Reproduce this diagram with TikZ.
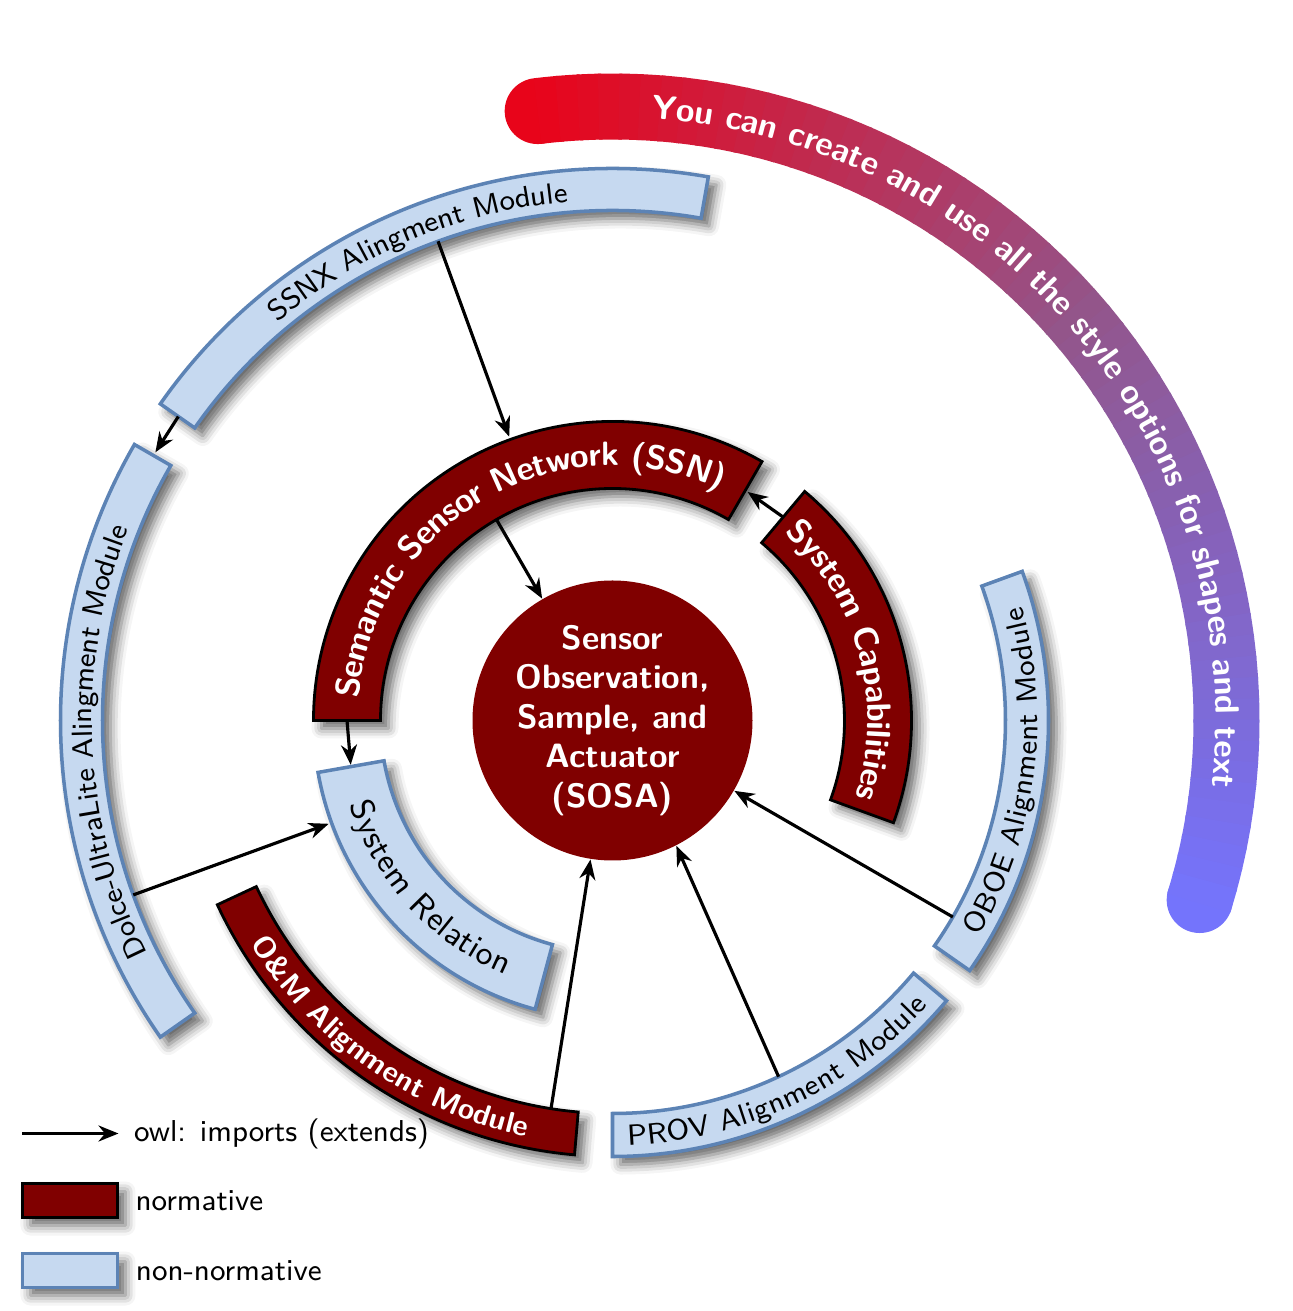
\documentclass[tikz,border=0pt]{standalone}
\usepackage{tikz}
\usetikzlibrary{arrows.meta,calc,decorations.text,shadows,shadows.blur,positioning}
\colorlet{snorm}{red!50!black}
\definecolor{snonfill}{RGB}{198,217,240}
\definecolor{snonedge}{RGB}{92,131,181}
\definecolor{sgradA}{RGB}{232,4,26}
\definecolor{sgradM}{RGB}{146,86,140}
\definecolor{sgradB}{RGB}{116,116,252}
\newcommand{\sbigfont}{\fontsize{9.6}{11.2}\selectfont\sffamily\bfseries}
\newcommand{\sbandfont}{\fontsize{8.4}{10}\selectfont\sffamily\bfseries}
\newcommand{\smidfont}{\fontsize{9.4}{11}\selectfont\sffamily}
\newcommand{\ssmallfont}{\fontsize{8.3}{10}\selectfont\sffamily}
\newcommand{\slegfont}{\fontsize{8.6}{10}\selectfont\sffamily}
\tikzset{
  sshadow/.style={blur shadow={shadow xshift=0.8mm,shadow yshift=-0.8mm,shadow blur radius=1mm,shadow opacity=60}},
  snormseg/.style={draw=black,line width=0.8pt,fill=snorm,sshadow},
  snonseg/.style={draw=snonedge,line width=1pt,fill=snonfill,sshadow},
  simp/.style={-{Stealth[length=2mm,width=1.6mm]},line width=0.9pt},
  snormbox/.style={snormseg,minimum width=9.5mm,minimum height=3.4mm,inner sep=0},
  snonbox/.style={snonseg,minimum width=9.5mm,minimum height=3.4mm,inner sep=0},
  slab/.style={font=\slegfont,inner sep=0,anchor=west},
  sosa/.style={circle,fill=snorm,minimum size=2.8cm,inner sep=0,align=center,text=white,font=\sbigfont},
}
\newcommand{\sseg}[5]{% #1 = style, #2 = from angle, #3 = to angle, #4 = inner r, #5 = outer r
  \path[#1] (#2:#4) arc[start angle=#2,end angle=#3,radius=#4] -- (#3:#5) arc[start angle=#3,end angle=#2,radius=#5] -- cycle;}
\newcommand{\sarc}[5]{% #1 = font + colour, #2 = from angle, #3 = to angle (reading direction), #4 = radius, #5 = text
  \path[decorate,decoration={text along path,text align=center,raise=-3pt,text={|#1|#5}}] (#2:#4) arc[start angle=#2,end angle=#3,radius=#4];}

\begin{document}
\begin{tikzpicture}
\useasboundingbox (-6.125,-5.905) rectangle (6.795,7.205);
% ---- the coloured band, outermost: red into purple into blue, step by step
\fill[sgradA] (97:6.14) circle (0.33);
\fill[sgradB] (-17:6.14) circle (0.33);
\foreach \from/\cA/\cB in {97/sgradA/sgradM,40/sgradM/sgradB}{
  \foreach \a in {0,...,29}{
    \pgfmathsetmacro{\t}{100*(\a+0.5)/30}
    \draw[line width=0.66cm,\cB!\t!\cA] (\from-1.9*\a:6.14) arc[start angle=\from-1.9*\a,end angle=\from-1.9*\a-2.2,radius=6.14];}}
\sarc{\sbigfont\color{white}}{97}{-17}{6.14}{You can create and use all the style options for shapes and text}
% ---- outer ring
\sseg{snonseg}{145}{80}{5.10}{5.52}
\sarc{\ssmallfont}{145}{80}{5.31}{SSNX Alingment Module}
\sseg{snonseg}{215}{150}{5.10}{5.52}
\sarc{\ssmallfont}{215}{150}{5.31}{Dolce-UltraLite Alingment Module}
% ---- middle ring
\sseg{snormseg}{205}{265}{3.93}{4.36}
\sarc{\sbandfont\color{white}}{205}{265}{4.145}{O{\&}M Alignment Module}
\sseg{snonseg}{270}{320}{3.93}{4.36}
\sarc{\ssmallfont}{270}{320}{4.145}{PROV Alignment Module}
\sseg{snonseg}{-35}{20}{3.93}{4.36}
\sarc{\ssmallfont}{-35}{20}{4.145}{OBOE Alignment Module}
% ---- inner ring
\sseg{snormseg}{180}{60}{2.32}{2.99}
\sarc{\sbigfont\color{white}}{180}{60}{2.655}{Semantic Sensor Network (SSN)}
\sseg{snormseg}{50}{-20}{2.32}{2.99}
\sarc{\sbigfont\color{white}}{50}{-20}{2.655}{System Capabilities}
\sseg{snonseg}{190}{255}{2.32}{2.99}
\sarc{\smidfont}{190}{255}{2.655}{System Relation}
% ---- the core
\node[sosa] (sosa) at (0,0) {Sensor\\Observation,\\Sample, and\\Actuator\\(SOSA)};
% ---- imports
\coordinate (ssnxin) at (110:5.10);
\coordinate (ssnout) at (110:3.02);
\coordinate (ssnxend) at (145:5.30);
\coordinate (dolcetop) at (149.6:5.30);
\coordinate (ssnin) at (120:2.32);
\coordinate (capend) at (50:2.655);
\coordinate (ssnend) at (59.4:2.655);
\coordinate (ssnfoot) at (180:2.655);
\coordinate (reltop) at (189.6:2.655);
\coordinate (dolcein) at (200:5.10);
\coordinate (relout) at (200:3.02);
\coordinate (omin) at (261:3.93);
\coordinate (provin) at (295:3.93);
\coordinate (oboein) at (330:3.93);
\draw[simp] (ssnxin) -- (ssnout);
\draw[simp] (ssnxend) -- (dolcetop);
\draw[simp] (ssnin) -- (sosa);
\draw[simp] (capend) -- (ssnend);
\draw[simp] (ssnfoot) -- (reltop);
\draw[simp] (dolcein) -- (relout);
\draw[simp] (omin) -- (sosa);
\draw[simp] (provin) -- (sosa.297);
\draw[simp] (oboein) -- (sosa);
% ---- legend
\coordinate (lgS) at (-5.90,-4.13);
\node[slab] (lgimp) at (-4.79,-4.13) {owl: imports (extends)};
\draw[simp] (lgS) -- ([xshift=-1.5mm]lgimp.west);
\node[snormbox] (lgnorm) at (-5.425,-4.80) {};
\node[slab,right=1.6mm of lgnorm] (lgnormt) {normative};
\node[snonbox] (lgnon) at (-5.425,-5.50) {};
\node[slab,right=1.6mm of lgnon] (lgnont) {non-normative};
\end{tikzpicture}
\end{document}
